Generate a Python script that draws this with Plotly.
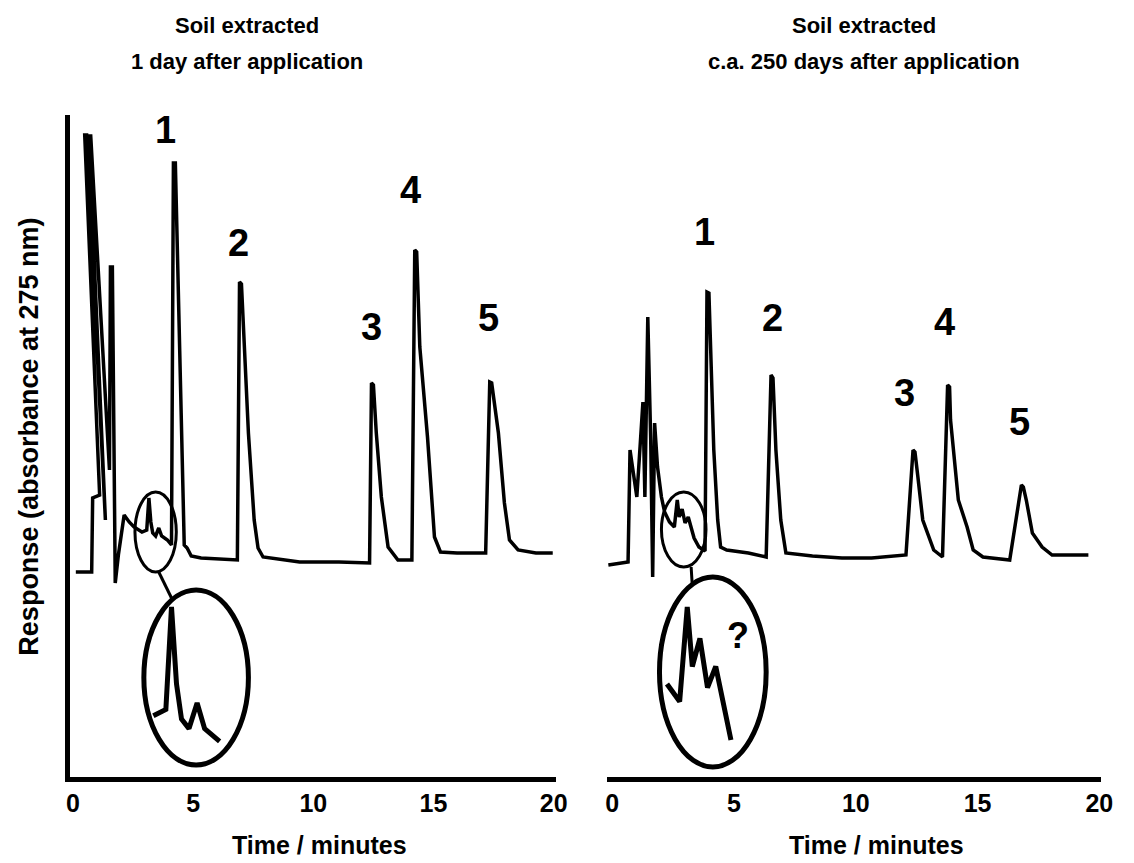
import numpy as np
import plotly.graph_objects as go

# ---------------- data ----------------
# Left chromatogram: soil extracted 1 day after application
time_left = [0.12, 0.78, 0.82, 1.11, 0.49, 0.57, 1.35, 0.66, 0.74, 1.52,
             1.56, 1.64, 1.76, 1.89, 2.13, 2.34, 2.54, 2.87, 3.07, 3.16,
             3.24, 3.32, 3.44, 3.57, 3.69, 3.93, 4.10, 4.18, 4.26, 4.47,
             4.63, 4.75, 4.92, 5.33, 6.15, 6.84, 6.93, 7.01, 7.30, 7.54,
             7.70, 7.91, 9.43, 11.07, 12.34, 12.42, 12.50, 12.62, 12.83, 13.11,
             13.52, 14.10, 14.22, 14.30, 14.43, 14.75, 15.04, 15.29, 15.98, 17.17,
             17.34, 17.42, 17.70, 17.95, 18.16, 18.52, 19.26, 19.96]
resp_left = [205, 205, 279, 282, 642, 642, 257, 641, 641, 307,
             510, 510, 194, 222, 262, 255, 250, 245, 247, 279,
             255, 244, 241, 249, 241, 237, 232, 614, 614, 377,
             232, 229, 221, 219, 218, 217, 495, 493, 344, 257,
             229, 220, 215, 215, 214, 394, 392, 344, 280, 230,
             217, 217, 527, 525, 430, 340, 240, 225, 224, 224,
             395, 394, 344, 274, 237, 227, 224, 224]

# Right chromatogram: soil extracted c.a. 250 days after application
time_right = [-0.16, 0.65, 0.73, 0.85, 1.01, 1.26, 1.34, 1.46, 1.58, 1.66,
              1.74, 1.86, 2.02, 2.15, 2.35, 2.55, 2.67, 2.75, 2.87, 2.99,
              3.12, 3.36, 3.56, 3.81, 3.89, 3.97, 4.17, 4.33, 4.45, 4.70,
              5.59, 6.32, 6.52, 6.60, 6.72, 6.92, 7.13, 8.22, 9.43, 10.65,
              12.06, 12.35, 12.43, 12.55, 12.75, 13.20, 13.56, 13.77, 13.85, 13.89,
              14.21, 14.57, 14.82, 15.22, 16.32, 16.80, 16.88, 17.00, 17.25, 17.65,
              18.06, 19.55]
resp_right = [212, 215, 327, 307, 280, 375, 280, 460, 337, 200,
              354, 310, 280, 265, 255, 250, 277, 260, 268, 254,
              260, 239, 230, 226, 485, 484, 327, 257, 230, 227,
              224, 220, 402, 399, 327, 257, 224, 221, 219, 219,
              222, 327, 325, 300, 257, 227, 220, 392, 390, 357,
              277, 250, 227, 220, 217, 292, 290, 277, 244, 230,
              222, 222]

tick_values = [0, 5, 10, 15, 20]
tick_labels = ["0", "5", "10", "15", "20"]
peak_names = ["1", "2", "3", "4", "5"]
peak_label_time_left = [3.85, 6.89, 12.42, 14.06, 17.30]
peak_label_resp_left = [647, 534, 450, 587, 459]
peak_label_time_right = [3.79, 6.59, 12.02, 13.64, 16.74]
peak_label_resp_right = [545, 459, 384, 455, 355]

titles_left = ["Soil extracted", "1 day after application"]
titles_right = ["Soil extracted", "c.a. 250 days after application"]
x_title = "Time / minutes"
y_title = "Response (absorbance at 275 nm)"

# ---------------- figure ----------------
W, H = 1134, 863
INK = "black"


def px_x(p):
    return p / W


def px_y(p):
    return 1 - p / H


def magnify(t, r, window, src, dst, kx, ky):
    t = np.asarray(t, float)
    r = np.asarray(r, float)
    m = (t >= window[0]) & (t <= window[1])
    return dst[0] + (t[m] - src[0]) * kx, dst[1] + (r[m] - src[1]) * ky


fig = go.Figure()

line_main = dict(color=INK, width=3.5)
fig.add_trace(go.Scatter(x=time_left, y=resp_left, mode="lines", line=line_main,
                         xaxis="x", yaxis="y", showlegend=False, hoverinfo="skip"))
fig.add_trace(go.Scatter(x=time_right, y=resp_right, mode="lines", line=line_main,
                         xaxis="x2", yaxis="y2", showlegend=False, hoverinfo="skip"))

# magnified insets derived from the circled parts of the traces
il_t, il_r = magnify(time_left, resp_left, (2.80, 4.00), (3.16, 279), (4.10, 170), 2.6, 3.2)
ir_t, ir_r = magnify(time_right, resp_right, (2.30, 3.40), (2.67, 277), (3.08, 170), 2.6, 3.5)
line_inset = dict(color=INK, width=5)
fig.add_trace(go.Scatter(x=il_t, y=il_r, mode="lines", line=line_inset,
                         xaxis="x", yaxis="y", showlegend=False, hoverinfo="skip"))
fig.add_trace(go.Scatter(x=ir_t, y=ir_r, mode="lines", line=line_inset,
                         xaxis="x2", yaxis="y2", showlegend=False, hoverinfo="skip"))

shapes = [
    # left: small circle, connector, large circle
    dict(type="circle", xref="x", yref="y", x0=2.58, x1=4.30, y0=205, y1=285,
         line=dict(color=INK, width=3)),
    dict(type="line", xref="x", yref="y", x0=3.57, y0=205, x1=4.10, y1=179,
         line=dict(color=INK, width=3)),
    dict(type="circle", xref="x", yref="y", x0=2.95, x1=7.30, y0=12, y1=187,
         line=dict(color=INK, width=5)),
    # right
    dict(type="circle", xref="x2", yref="y2", x0=2.02, x1=3.85, y0=210, y1=285,
         line=dict(color=INK, width=3)),
    dict(type="line", xref="x2", yref="y2", x0=3.24, y0=210, x1=3.28, y1=194,
         line=dict(color=INK, width=3)),
    dict(type="circle", xref="x2", yref="y2", x0=1.94, x1=6.32, y0=10, y1=200,
         line=dict(color=INK, width=5)),
]

BOLD = "Liberation Sans, Arial, sans-serif"

annotations = []
for name, t, r in zip(peak_names, peak_label_time_left, peak_label_resp_left):
    annotations.append(dict(x=t, y=r, xref="x", yref="y", text=name, showarrow=False,
                            font=dict(family=BOLD, size=38, color=INK, weight="bold")))
for name, t, r in zip(peak_names, peak_label_time_right, peak_label_resp_right):
    annotations.append(dict(x=t, y=r, xref="x2", yref="y2", text=name, showarrow=False,
                            font=dict(family=BOLD, size=38, color=INK, weight="bold")))
annotations.append(dict(x=5.15, y=142, xref="x2", yref="y2", text="?", showarrow=False,
                        font=dict(family=BOLD, size=36, color=INK, weight="bold")))

title_font = dict(family=BOLD, size=22, color=INK, weight="bold")
for cx, lines in ((px_x(246), titles_left), (px_x(872), titles_right)):
    for i, txt in enumerate(lines):
        annotations.append(dict(x=cx, y=px_y(25 + 37 * i), xref="paper", yref="paper",
                                text=txt, showarrow=False, font=title_font,
                                xanchor="center", yanchor="middle"))

axis_title_font = dict(family=BOLD, size=25, color=INK, weight="bold")
for cx in (px_x(320), px_x(885)):
    annotations.append(dict(x=cx, y=px_y(845), xref="paper", yref="paper", text=x_title,
                            showarrow=False, font=axis_title_font,
                            xanchor="center", yanchor="middle"))
annotations.append(dict(x=px_x(25), y=px_y(437), xref="paper", yref="paper", text=y_title,
                        textangle=-90, showarrow=False,
                        font=dict(family=BOLD, size=27, color=INK, weight="bold"),
                        xanchor="center", yanchor="middle"))

tickfont = dict(family=BOLD, size=25, color=INK, weight="bold")
common_x = dict(showgrid=False, zeroline=False, showline=True, linecolor=INK, linewidth=5,
                tickvals=tick_values, ticktext=tick_labels, ticks="", tickfont=tickfont,
                fixedrange=True)
y_dom = [px_y(777), px_y(115)]

fig.update_layout(
    width=W, height=H,
    margin=dict(l=0, r=0, t=0, b=0, pad=0),
    paper_bgcolor="white", plot_bgcolor="white",
    xaxis=dict(domain=[px_x(67), px_x(560)], range=[-0.12, 20.1], anchor="y", **common_x),
    yaxis=dict(domain=y_dom, range=[0, 662], anchor="x", showgrid=False, zeroline=False,
               showline=True, linecolor=INK, linewidth=5, showticklabels=False, ticks=""),
    xaxis2=dict(domain=[px_x(612), px_x(1113)], range=[-0.2, 20.08], anchor="y2", **common_x),
    yaxis2=dict(domain=y_dom, range=[0, 662], anchor="x2", showgrid=False, zeroline=False,
                showline=False, showticklabels=False, ticks=""),
    shapes=shapes,
    annotations=annotations,
    showlegend=False,
)

fig.write_html("out.html")
